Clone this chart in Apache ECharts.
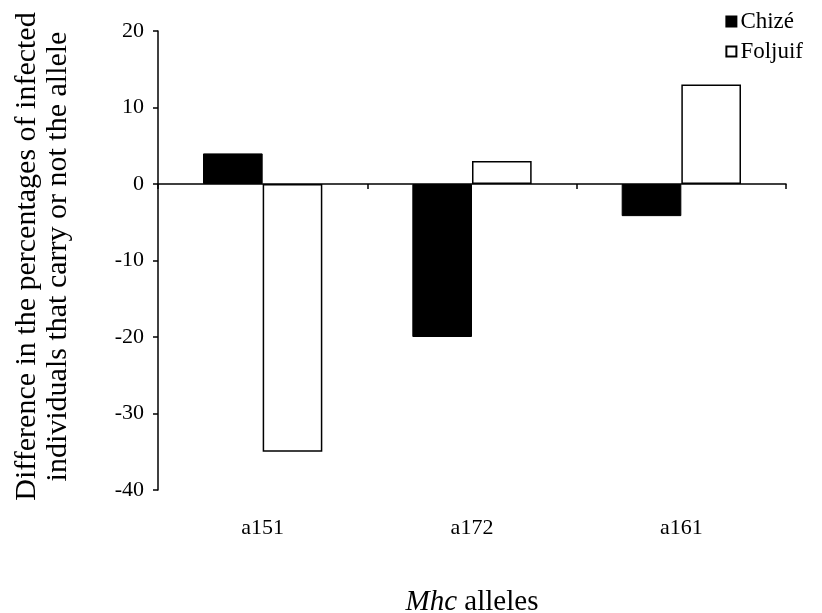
<!DOCTYPE html>
<html>
<head>
<meta charset="utf-8">
<script src="https://cdn.jsdelivr.net/npm/echarts@6/dist/echarts.min.js"></script>
<style>html,body{margin:0;padding:0;background:#fff;overflow:hidden;}#c{width:822px;height:613px;}</style>
</head>
<body>
<div id="c"></div>
<script>
const categories = ['a151', 'a172', 'a161'];
const chize = [4, -20, -4.2];
const foljuif = [-35, 3, 13];
const yTicks = { min: -40, max: 20, interval: 10 };
const yTitle = 'Difference in the percentages of infected\nindividuals that carry or not the allele';

const FONT = '"Liberation Serif", "DejaVu Serif", serif';
const chart = echarts.init(document.getElementById('c'));
chart.setOption({
  animation: false,
  backgroundColor: '#fff',
  textStyle: { fontFamily: FONT, color: '#000' },
  legend: {
    orient: 'vertical',
    right: 14,
    top: 5,
    icon: 'rect',
    itemWidth: 10,
    itemHeight: 10,
    itemGap: 7,
    textStyle: { fontFamily: FONT, fontSize: 23, color: '#000', padding: [0, 0, 0, -1] },
    data: ['Chizé', 'Foljuif']
  },
  grid: { left: 158, right: 36, top: 31, bottom: 123, containLabel: false, outerBoundsMode: 'none' },
  xAxis: [
    {
      type: 'category',
      data: categories,
      axisLine: { onZero: true, lineStyle: { color: '#000', width: 1.5 } },
      axisTick: { show: true, length: 5, lineStyle: { color: '#000', width: 1.5 } },
      axisLabel: { show: false },
      splitLine: { show: false }
    },
    {
      type: 'category',
      data: categories,
      position: 'bottom',
      axisLine: { show: false, onZero: false },
      axisTick: { show: false },
      axisLabel: { show: true, margin: 27, fontFamily: FONT, fontSize: 22, color: '#000' },
      splitLine: { show: false },
      name: '{i|Mhc} alleles',
      nameLocation: 'middle',
      nameGap: 98,
      nameTextStyle: {
        fontFamily: FONT, fontSize: 29, color: '#000',
        rich: { i: { fontFamily: FONT, fontSize: 29, fontStyle: 'italic', color: '#000' } }
      }
    }
  ],
  yAxis: {
    type: 'value',
    min: yTicks.min,
    max: yTicks.max,
    interval: yTicks.interval,
    axisLine: { show: true, onZero: false, lineStyle: { color: '#000', width: 1.5 } },
    axisTick: { show: true, length: 5, lineStyle: { color: '#000', width: 1.5 } },
    axisLabel: { margin: 14, fontFamily: FONT, fontSize: 22, color: '#000' },
    splitLine: { show: false },
    name: yTitle,
    nameLocation: 'middle',
    nameRotate: 90,
    nameGap: 84,
    nameTextStyle: { fontFamily: FONT, fontSize: 30, color: '#000', lineHeight: 31, align: 'center', padding: [0, 0, 0, 8] }
  },
  series: [
    {
      name: 'Chizé',
      type: 'bar',
      data: chize,
      barGap: '0%',
      barCategoryGap: '43%',
      itemStyle: { color: '#000', borderColor: '#000', borderWidth: 1 }
    },
    {
      name: 'Foljuif',
      type: 'bar',
      data: foljuif,
      barGap: '0%',
      barCategoryGap: '43%',
      itemStyle: { color: '#fff', borderColor: '#000', borderWidth: 1.5 }
    }
  ]
});
</script>
</body>
</html>
